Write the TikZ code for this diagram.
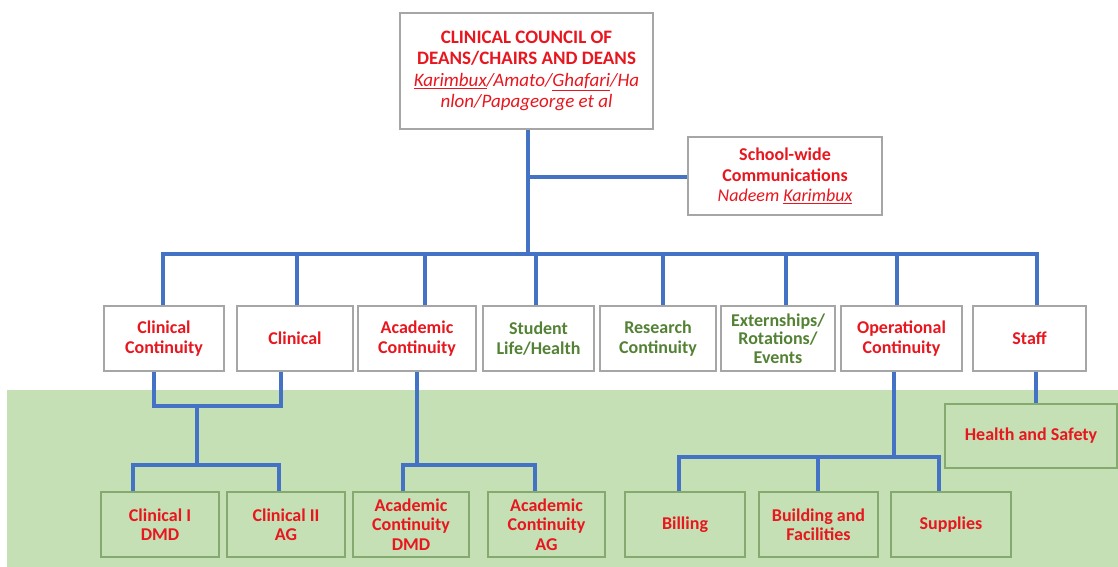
\documentclass[tikz,border=0pt]{standalone}
\usepackage{fontspec}
\setmainfont{Carlito}
\definecolor{linkblue}{RGB}{68,114,196}
\definecolor{txtred}{RGB}{232,22,30}
\definecolor{txtgreen}{RGB}{84,130,53}
\definecolor{bggreen}{RGB}{197,224,180}
\definecolor{boxgray}{RGB}{166,166,166}
\definecolor{boxgreen}{RGB}{132,170,112}
\tikzset{
  conn/.style={draw=linkblue,line width=4pt},
  wbox/.style={draw=boxgray,line width=1.3pt,fill=white,align=center,inner sep=0pt,
     minimum height=65pt,font=\fontsize{18}{19.5}\selectfont\bfseries},
  gbox/.style={draw=boxgreen,line width=1.3pt,fill=bggreen,align=center,inner sep=0pt,
     minimum height=65pt,font=\fontsize{18}{19.5}\selectfont\bfseries,text=txtred},
  redt/.style={text=txtred},
  greent/.style={text=txtgreen}
}
\begin{document}
\begin{tikzpicture}[x=1pt,y=-1pt]
\useasboundingbox (0,0) rectangle (1118,567);
\fill[bggreen] (7,390) rectangle (1118,567);

% top boxes
\node[wbox,redt,minimum width=253pt,minimum height=116pt,font=\fontsize{19}{21.5}\selectfont\bfseries] (top) at (526.5,71)
  {CLINICAL COUNCIL OF\\DEANS/CHAIRS AND DEANS\\{\mdseries\itshape\underline{Karimbux}/Amato/\underline{Ghafari}/Ha}\\{\mdseries\itshape nlon/Papageorge et al}};
\node[wbox,redt,minimum width=194pt,minimum height=78pt,font=\fontsize{18}{20.5}\selectfont\bfseries] (comm) at (785,176)
  {School-wide\\Communications\\{\mdseries\itshape Nadeem \underline{Karimbux}}};

% middle row
\node[wbox,redt,minimum width=120pt] (cc) at (164,338.5) {Clinical\\Continuity};
\node[wbox,redt,minimum width=116pt] (cl) at (295,338.5) {Clinical};
\node[wbox,redt,minimum width=118pt] (ac) at (417,338.5) {Academic\\Continuity};
\node[wbox,greent,minimum width=111pt] (sl) at (538.5,338.5) {Student\\Life/Health};
\node[wbox,greent,minimum width=116pt] (rc) at (658,338.5) {Research\\Continuity};
\node[wbox,greent,minimum width=114pt,font=\fontsize{18}{18.5}\selectfont\bfseries] (ex) at (778,338.5) {Externships/\\Rotations/\\Events};
\node[wbox,redt,minimum width=121pt] (oc) at (901.5,338.5) {Operational\\Continuity};
\node[wbox,redt,minimum width=113pt] (st) at (1029.5,338.5) {Staff};

% bottom row
\node[gbox,minimum width=118pt] (c1) at (160,524.5) {Clinical I\\DMD};
\node[gbox,minimum width=118pt] (c2) at (286,524.5) {Clinical II\\AG};
\node[gbox,minimum width=116pt] (a1) at (411,524.5) {Academic\\Continuity\\DMD};
\node[gbox,minimum width=117pt] (a2) at (546.5,524.5) {Academic\\Continuity\\AG};
\node[gbox,minimum width=120pt] (bi) at (685,524.5) {Billing};
\node[gbox,minimum width=119pt] (bu) at (818.5,524.5) {Building and\\Facilities};
\node[gbox,minimum width=120pt] (su) at (951,524.5) {Supplies};
\node[gbox,minimum width=172pt,minimum height=64pt] (hs) at (1031,436) {Health and Safety};

% upper connectors
\coordinate (t) at (528,254);
\coordinate (cj) at (528,177);
\draw[conn] (top.south -| t) -- (t);
\draw[conn] (cj) -- (cj -| comm.west);
\coordinate (b1) at (163,254);
\coordinate (b2) at (297,254);
\coordinate (b3) at (425,254);
\coordinate (b4) at (536,254);
\coordinate (b5) at (663,254);
\coordinate (b6) at (786,254);
\coordinate (b7) at (897,254);
\coordinate (b8) at (1037,254);
\draw[conn] (b1 |- cc.north) -- (b1) -- (b8) -- (b8 |- st.north);
\draw[conn] (b2) -- (b2 |- cl.north);
\draw[conn] (b3) -- (b3 |- ac.north);
\draw[conn] (b4) -- (b4 |- sl.north);
\draw[conn] (b5) -- (b5 |- rc.north);
\draw[conn] (b6) -- (b6 |- ex.north);
\draw[conn] (b7) -- (b7 |- oc.north);

% clinical connectors
\coordinate (k1) at (154,406);
\coordinate (k2) at (281,406);
\coordinate (k3) at (197,406);
\coordinate (k4) at (197,465);
\coordinate (k5) at (133,465);
\coordinate (k6) at (279,465);
\draw[conn] (k1 |- cc.south) -- (k1) -- (k2) -- (k2 |- cl.south);
\draw[conn] (k3) -- (k4);
\draw[conn] (k5 |- c1.north) -- (k5) -- (k6) -- (k6 |- c2.north);

% academic connectors
\coordinate (m1) at (417,465);
\coordinate (m2) at (403,465);
\coordinate (m3) at (535,465);
\draw[conn] (m1 |- ac.south) -- (m1);
\draw[conn] (m2 |- a1.north) -- (m2) -- (m3) -- (m3 |- a2.north);

% operational connectors
\coordinate (o1) at (894,457);
\coordinate (o2) at (679,457);
\coordinate (o3) at (818,457);
\coordinate (o4) at (939,457);
\draw[conn] (o1 |- oc.south) -- (o1);
\draw[conn] (o2 |- bi.north) -- (o2) -- (o4) -- (o4 |- su.north);
\draw[conn] (o3) -- (o3 |- bu.north);

% staff connector
\coordinate (s1) at (1036,380);
\draw[conn] (s1 |- st.south) -- (s1 |- hs.north);
\end{tikzpicture}
\end{document}
